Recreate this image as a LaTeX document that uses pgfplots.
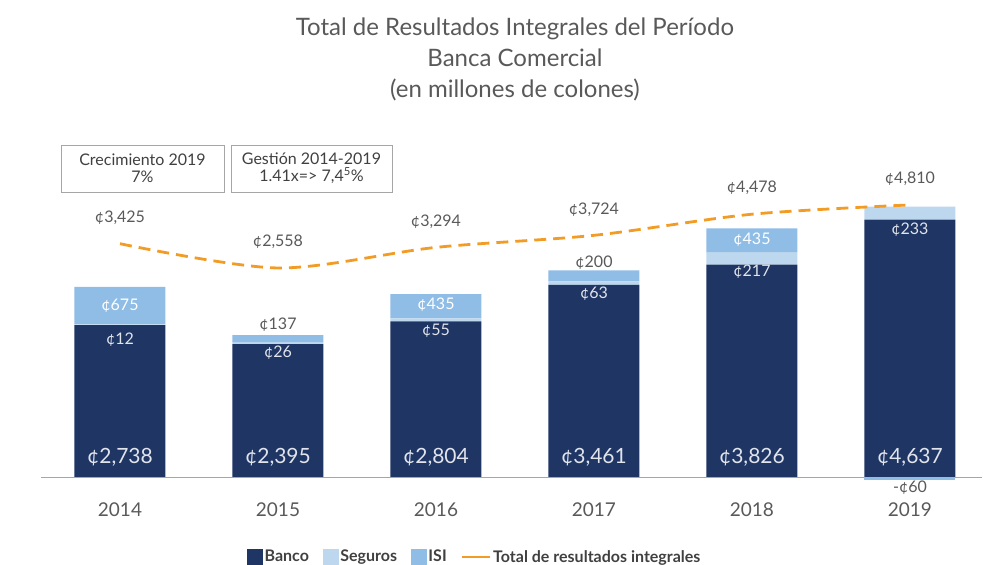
\documentclass[border=0pt]{standalone}
\usepackage{pgfplots}
\pgfplotsset{compat=1.18}
\usepackage{fontspec}
\setmainfont{Lato}
\definecolor{banco}{RGB}{31,53,100}
\definecolor{seguros}{RGB}{189,215,238}
\definecolor{isi}{RGB}{143,189,230}
\definecolor{linea}{RGB}{243,156,37}
\definecolor{txt}{RGB}{89,89,89}
\definecolor{lbl}{RGB}{225,228,235}
\definecolor{legtxt}{RGB}{64,64,64}
\newcommand{\fs}[1]{\fontsize{#1}{#1}\selectfont}
\begin{document}
\begin{tikzpicture}[x=1pt,y=1pt]
\useasboundingbox (-41,-88) rectangle (942,477);
% ---------- bars ----------
\begin{axis}[
  at={(0,0)}, anchor=south west,
  scale only axis, width=941pt, height=337pt,
  xmin=-0.5, xmax=5.456, ymin=0, ymax=6072,
  ybar stacked, bar width=91pt,
  axis y line=none, axis x line*=bottom,
  x axis line style={draw=gray!70, line width=0.8pt, -},
  xtick={0,...,5}, xticklabels={2014,2015,2016,2017,2018,2019},
  major tick length=0pt,
  xticklabel style={font=\fs{19}, text=txt, yshift=-22pt},
  clip=false,
]
\addplot[fill=banco, draw=none] coordinates {(0,2738) (1,2395) (2,2804) (3,3461) (4,3826) (5,4637)};
\addplot[fill=seguros, draw=none] coordinates {(0,12) (1,26) (2,55) (3,63) (4,217) (5,233)};
\addplot[fill=isi, draw=none] coordinates {(0,675) (1,137) (2,435) (3,200) (4,435) (5,0)};
\end{axis}
% ---------- negative ISI 2019 + bar labels ----------
\begin{axis}[
  at={(0,0)}, anchor=south west,
  scale only axis, width=941pt, height=337pt,
  xmin=-0.5, xmax=5.456, ymin=0, ymax=6072,
  ybar, bar width=91pt, bar shift=0pt,
  axis lines=none, clip=false,
]
\addplot[fill=isi, draw=none] coordinates {(5,-60)};
% Banco labels
\node[font=\fs{21}, text=lbl] at (axis cs:0,360) {¢2,738};
\node[font=\fs{21}, text=lbl] at (axis cs:1,360) {¢2,395};
\node[font=\fs{21}, text=lbl] at (axis cs:2,360) {¢2,804};
\node[font=\fs{21}, text=lbl] at (axis cs:3,360) {¢3,461};
\node[font=\fs{21}, text=lbl] at (axis cs:4,360) {¢3,826};
\node[font=\fs{21}, text=lbl] at (axis cs:5,360) {¢4,637};
% Seguros labels (inside Banco top)
\node[font=\fs{16}, text=lbl] at (axis cs:0,2468) {¢12};
\node[font=\fs{16}, text=lbl] at (axis cs:1,2233) {¢26};
\node[font=\fs{16}, text=lbl] at (axis cs:2,2630) {¢55};
\node[font=\fs{16}, text=lbl] at (axis cs:3,3300) {¢63};
\node[font=\fs{16}, text=lbl] at (axis cs:4,3693) {¢217};
\node[font=\fs{16}, text=lbl] at (axis cs:5,4450) {¢233};
% ISI labels
\node[font=\fs{16}, text=white] at (axis cs:0,3080) {¢675};
\node[font=\fs{16}, text=white] at (axis cs:2,3100) {¢435};
\node[font=\fs{16}, text=white] at (axis cs:4,4270) {¢435};
\node[font=\fs{16}, text=txt] at (axis cs:1,2737) {¢137};
\node[font=\fs{16}, text=txt] at (axis cs:3,3870) {¢200};
\node[font=\fs{16}, text=txt] at (axis cs:5,-200) {-¢60};
\end{axis}
% ---------- total line ----------
\begin{axis}[
  at={(0,0)}, anchor=south west,
  scale only axis, width=941pt, height=337pt,
  xmin=-0.5, xmax=5.456, ymin=-4907, ymax=7129,
  axis lines=none, clip=false,
  /pgf/number format/.cd, 1000 sep={,}, assume math mode=true,
  /pgfplots/.cd,
  legend style={at={(0.461,-0.237)}, anchor=center, draw=none, fill=none,
    font=\fs{16}\bfseries, text=legtxt, legend columns=-1,
    /tikz/every even column/.append style={column sep=12pt}},
  legend cell align=left,
]
\addlegendimage{legend image code/.code={\fill[banco] (0pt,-7pt) rectangle (15pt,8pt);}}
\addlegendentry{Banco}
\addlegendimage{legend image code/.code={\fill[seguros] (0pt,-7pt) rectangle (15pt,8pt);}}
\addlegendentry{Seguros}
\addlegendimage{legend image code/.code={\fill[isi] (0pt,-7pt) rectangle (15pt,8pt);}}
\addlegendentry{ISI}
\addlegendimage{legend image code/.code={\draw[linea, line width=2.5pt] (0pt,0pt) -- (28pt,0pt);}}
\addlegendentry{Total de resultados integrales}
\addplot[forget plot, linea, line width=2.8pt, smooth, dash pattern=on 12pt off 7pt,
  nodes near coords={¢\pgfmathprintnumber{\pgfplotspointmeta}},
  nodes near coords style={font=\fs{16}, text=txt, anchor=center, yshift=26pt, solid}]
  coordinates {(0,3425) (1,2558) (2,3294) (3,3724) (4,4478) (5,4810)};
\end{axis}
% ---------- boxes ----------
\draw[gray!70, line width=0.8pt] (20,285) rectangle (183,332);
\node[font=\fs{16}, text=legtxt, align=center] at (101.5,308.5) {Crecimiento 2019\\[1pt] 7\%};
\draw[gray!70, line width=0.8pt] (190,285) rectangle (351,332);
\node[font=\fs{16}, text=legtxt, align=center] at (270.5,308.5) {Gestión 2014-2019\\[1pt] 1.41x=> 7,4\textsuperscript{5}\%};
% ---------- title ----------
\node[font=\fs{24}, text=txt, align=center] at (474,418) {Total de Resultados Integrales del Período\\[7pt] Banca Comercial\\[7pt] (en millones de colones)};
\end{tikzpicture}
\end{document}
